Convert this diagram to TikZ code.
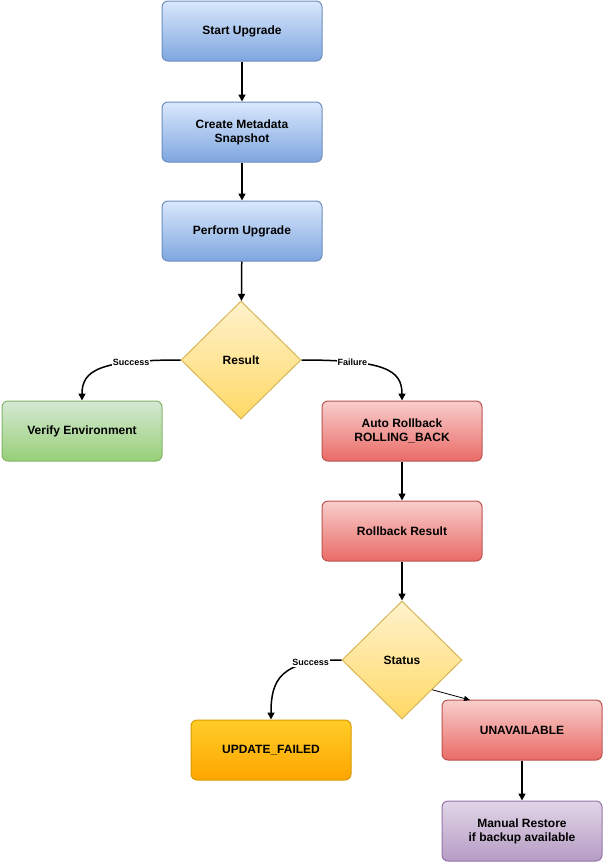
\documentclass[tikz,border=0pt]{standalone}
\usepackage{fontspec}
\setmainfont{Liberation Sans}
\usetikzlibrary{shapes.geometric,arrows.meta}
\definecolor{blueTop}{HTML}{DAE8FC}\definecolor{blueBot}{HTML}{7EA6E0}\definecolor{blueLine}{HTML}{6C8EBF}
\definecolor{greenTop}{HTML}{D5E8D4}\definecolor{greenBot}{HTML}{97D077}\definecolor{greenLine}{HTML}{82B366}
\definecolor{redTop}{HTML}{F8CECC}\definecolor{redBot}{HTML}{EA6B66}\definecolor{redLine}{HTML}{B85450}
\definecolor{yelTop}{HTML}{FFF2CC}\definecolor{yelBot}{HTML}{FFD966}\definecolor{yelLine}{HTML}{D6B656}
\definecolor{orTop}{HTML}{FFCD28}\definecolor{orBot}{HTML}{FFA500}\definecolor{orLine}{HTML}{D79B00}
\definecolor{purTop}{HTML}{E1D5E7}\definecolor{purBot}{HTML}{B59CC4}\definecolor{purLine}{HTML}{9673A6}
\tikzset{
  box/.style={rectangle, rounded corners=6pt, minimum width=160pt, minimum height=60pt,
    align=center, font=\fontsize{12}{14}\selectfont\bfseries, line width=1pt},
  blueBox/.style={box, draw=blueLine, top color=blueTop, bottom color=blueBot},
  greenBox/.style={box, draw=greenLine, top color=greenTop, bottom color=greenBot},
  redBox/.style={box, draw=redLine, top color=redTop, bottom color=redBot},
  orangeBox/.style={box, draw=orLine, top color=orTop, bottom color=orBot},
  purpleBox/.style={box, draw=purLine, top color=purTop, bottom color=purBot},
  decision/.style={diamond, aspect=1, minimum width=120pt, minimum height=118pt, inner sep=0pt,
    draw=yelLine, top color=yelTop, bottom color=yelBot, line width=1pt,
    font=\fontsize{12}{14}\selectfont\bfseries},
  flow/.style={-{Triangle[length=7pt,width=7pt]}, line width=1.5pt},
  tag/.style={fill=white, inner sep=1pt, font=\fontsize{9}{10}\selectfont\bfseries}
}
\begin{document}
\begin{tikzpicture}[x=1pt,y=-1pt]
\useasboundingbox (0,0) rectangle (604,865);
\node[blueBox] (start) at (242,31) {Start Upgrade};
\node[blueBox] (snap) at (242,132) {Create Metadata\\Snapshot};
\node[blueBox] (perform) at (242,231) {Perform Upgrade};
\node[decision] (result) at (241,360) {Result};
\node[greenBox] (verify) at (82,431) {Verify Environment};
\node[redBox] (auto) at (402,431) {Auto Rollback\\ROLLING\_BACK};
\node[redBox] (rbres) at (402,531) {Rollback Result};
\node[decision] (status) at (402,660) {Status};
\node[orangeBox] (failed) at (271,750) {UPDATE\_FAILED};
\node[redBox] (unavail) at (522,730) {UNAVAILABLE};
\node[purpleBox] (manual) at (522,831) {Manual Restore\\if backup available};
\coordinate (unTop) at (470,700);
% main chain
\draw[flow] (start) -- (snap);
\draw[flow] (snap) -- (perform);
\draw[flow] (perform) -- (result);
\draw[flow] (result.west) .. controls (100,360) and (82,370) .. (verify.north)
  node[tag, pos=0.25] {Success};
\draw[flow] (result.east) .. controls (385,360) and (402,370) .. (auto.north)
  node[tag, pos=0.25] {Failure};
\draw[flow] (auto) -- (rbres);
\draw[flow] (rbres) -- (status);
\draw[flow] (status.west) .. controls (280,660) and (271,680) .. (failed.north)
  node[tag, pos=0.2] {Success};
\draw[-{Triangle[length=6pt,width=5pt]}, line width=0.8pt] (status.south east) -- (unTop);
\draw[flow] (unavail) -- (manual);
\end{tikzpicture}
\end{document}
